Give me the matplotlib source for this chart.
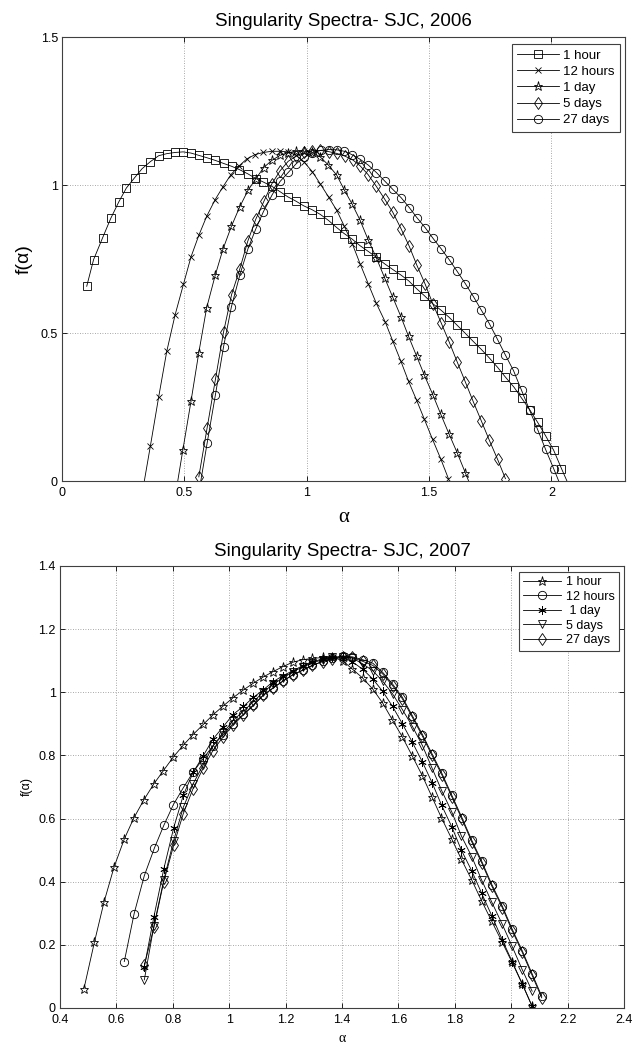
import matplotlib
matplotlib.use("Agg")
import matplotlib.pyplot as plt

# ---- 2006 spectra (alpha, f(alpha)) ----
a_1h_06 = [0.101, 0.129, 0.166, 0.199, 0.232, 0.263, 0.297, 0.327, 0.361, 0.395,
           0.428, 0.462, 0.495, 0.527, 0.560, 0.593, 0.627, 0.660, 0.694, 0.725,
           0.759, 0.792, 0.823, 0.857, 0.890, 0.923, 0.957, 0.987, 1.021, 1.055,
           1.088, 1.123, 1.153, 1.186, 1.218, 1.251, 1.284, 1.318, 1.351, 1.385,
           1.417, 1.450, 1.481, 1.515, 1.549, 1.582, 1.615, 1.648, 1.680, 1.713,
           1.746, 1.780, 1.812, 1.847, 1.879, 1.911, 1.943, 1.976, 2.009, 2.041, 2.074]
f_1h_06 = [0.658, 0.748, 0.822, 0.887, 0.943, 0.990, 1.025, 1.055, 1.079, 1.099,
           1.106, 1.110, 1.112, 1.108, 1.100, 1.092, 1.083, 1.073, 1.063, 1.052,
           1.038, 1.022, 1.010, 0.996, 0.978, 0.960, 0.945, 0.930, 0.917, 0.901,
           0.881, 0.856, 0.836, 0.817, 0.795, 0.776, 0.756, 0.734, 0.715, 0.696,
           0.676, 0.649, 0.626, 0.599, 0.577, 0.553, 0.526, 0.499, 0.472, 0.445,
           0.416, 0.384, 0.351, 0.317, 0.279, 0.241, 0.199, 0.153, 0.104, 0.042, -0.020]

a_12h_06 = [0.328, 0.361, 0.395, 0.428, 0.462, 0.496, 0.527, 0.559, 0.591, 0.626,
            0.657, 0.690, 0.724, 0.755, 0.789, 0.823, 0.857, 0.891, 0.924, 0.957,
            0.990, 1.023, 1.056, 1.089, 1.123, 1.154, 1.186, 1.218, 1.251, 1.284,
            1.321, 1.352, 1.385, 1.416, 1.449, 1.481, 1.514, 1.547, 1.579]
f_12h_06 = [-0.040, 0.118, 0.284, 0.438, 0.561, 0.664, 0.757, 0.830, 0.894, 0.951,
            0.993, 1.035, 1.065, 1.088, 1.103, 1.110, 1.114, 1.114, 1.112, 1.100,
            1.077, 1.045, 1.003, 0.960, 0.914, 0.860, 0.802, 0.734, 0.667, 0.601,
            0.537, 0.472, 0.404, 0.337, 0.273, 0.208, 0.141, 0.076, 0.008]

a_1d_06 = [0.461, 0.494, 0.527, 0.559, 0.591, 0.626, 0.658, 0.692, 0.726, 0.760,
           0.792, 0.824, 0.857, 0.890, 0.923, 0.957, 0.990, 1.022, 1.055, 1.088,
           1.123, 1.153, 1.186, 1.218, 1.251, 1.284, 1.318, 1.351, 1.385, 1.416,
           1.449, 1.481, 1.515, 1.548, 1.581, 1.615, 1.648, 1.681]
f_1d_06 = [-0.060, 0.106, 0.269, 0.434, 0.585, 0.695, 0.784, 0.860, 0.926, 0.982,
           1.021, 1.059, 1.083, 1.100, 1.109, 1.114, 1.114, 1.110, 1.095, 1.068,
           1.033, 0.984, 0.935, 0.881, 0.815, 0.755, 0.687, 0.622, 0.555, 0.489,
           0.422, 0.357, 0.292, 0.225, 0.160, 0.095, 0.028, -0.040]

a_5d_06 = [0.559, 0.593, 0.627, 0.660, 0.693, 0.726, 0.759, 0.792, 0.825, 0.858,
           0.891, 0.924, 0.957, 0.990, 1.023, 1.056, 1.089, 1.122, 1.155, 1.188,
           1.218, 1.251, 1.284, 1.318, 1.351, 1.385, 1.419, 1.450, 1.484, 1.515,
           1.549, 1.582, 1.615, 1.648, 1.680, 1.713, 1.746, 1.780, 1.812]
f_5d_06 = [0.014, 0.180, 0.344, 0.503, 0.630, 0.715, 0.810, 0.885, 0.945, 1.005,
           1.048, 1.080, 1.098, 1.110, 1.116, 1.117, 1.113, 1.107, 1.098, 1.085,
           1.065, 1.035, 0.996, 0.953, 0.909, 0.853, 0.793, 0.729, 0.665, 0.599,
           0.535, 0.470, 0.402, 0.335, 0.269, 0.204, 0.138, 0.073, 0.008]

a_27d_06 = [0.560, 0.593, 0.627, 0.660, 0.692, 0.727, 0.760, 0.792, 0.823, 0.858,
            0.891, 0.925, 0.957, 0.990, 1.023, 1.057, 1.090, 1.122, 1.154, 1.184,
            1.218, 1.252, 1.285, 1.318, 1.352, 1.386, 1.419, 1.450, 1.484, 1.515,
            1.549, 1.582, 1.615, 1.648, 1.682, 1.713, 1.746, 1.778, 1.811, 1.845,
            1.878, 1.911, 1.943, 1.976, 2.009, 2.042]
f_27d_06 = [-0.035, 0.128, 0.292, 0.453, 0.588, 0.697, 0.785, 0.852, 0.910, 0.966,
            1.012, 1.043, 1.072, 1.094, 1.108, 1.117, 1.120, 1.119, 1.114, 1.103,
            1.087, 1.067, 1.042, 1.014, 0.985, 0.957, 0.924, 0.890, 0.856, 0.821,
            0.785, 0.748, 0.708, 0.667, 0.622, 0.578, 0.532, 0.481, 0.427, 0.373,
            0.306, 0.239, 0.175, 0.107, 0.042, -0.025]

# ---- 2007 spectra ----
a_1h_07 = [0.485, 0.522, 0.556, 0.592, 0.628, 0.662, 0.698, 0.733, 0.767, 0.802,
           0.837, 0.872, 0.908, 0.942, 0.978, 1.013, 1.050, 1.086, 1.120, 1.155,
           1.190, 1.225, 1.261, 1.295, 1.331, 1.366, 1.402, 1.437, 1.473, 1.509,
           1.544, 1.578, 1.614, 1.649, 1.685, 1.719, 1.752, 1.789, 1.823, 1.860,
           1.895, 1.931, 1.968, 2.003, 2.039, 2.074]
f_1h_07 = [0.061, 0.208, 0.335, 0.447, 0.535, 0.602, 0.660, 0.710, 0.752, 0.795,
           0.832, 0.866, 0.898, 0.928, 0.956, 0.982, 1.007, 1.029, 1.048, 1.065,
           1.081, 1.095, 1.103, 1.107, 1.110, 1.111, 1.100, 1.073, 1.045, 1.010,
           0.966, 0.913, 0.858, 0.798, 0.735, 0.668, 0.603, 0.535, 0.471, 0.405,
           0.339, 0.274, 0.208, 0.144, 0.076, 0.005]

a_12h_07 = [0.628, 0.663, 0.699, 0.735, 0.768, 0.802, 0.837, 0.872, 0.908, 0.942,
            0.978, 1.013, 1.050, 1.086, 1.120, 1.155, 1.190, 1.225, 1.261, 1.295,
            1.331, 1.366, 1.402, 1.437, 1.473, 1.509, 1.544, 1.579, 1.614, 1.649,
            1.685, 1.719, 1.754, 1.789, 1.825, 1.860, 1.895, 1.931, 1.968, 2.003,
            2.039, 2.074, 2.108]
f_12h_07 = [0.147, 0.299, 0.419, 0.507, 0.578, 0.644, 0.697, 0.747, 0.790, 0.830,
            0.865, 0.900, 0.930, 0.960, 0.990, 1.013, 1.035, 1.055, 1.070, 1.085,
            1.098, 1.108, 1.115, 1.112, 1.103, 1.092, 1.063, 1.026, 0.984, 0.926,
            0.866, 0.805, 0.743, 0.674, 0.603, 0.531, 0.465, 0.391, 0.323, 0.250,
            0.181, 0.108, 0.037]

a_1d_07 = [0.699, 0.733, 0.768, 0.803, 0.837, 0.872, 0.908, 0.942, 0.978, 1.013,
           1.050, 1.086, 1.120, 1.155, 1.190, 1.225, 1.261, 1.295, 1.331, 1.366,
           1.402, 1.437, 1.473, 1.509, 1.544, 1.579, 1.614, 1.649, 1.685, 1.719,
           1.753, 1.789, 1.823, 1.860, 1.895, 1.931, 1.968, 2.003, 2.039, 2.074]
f_1d_07 = [0.130, 0.289, 0.440, 0.570, 0.673, 0.746, 0.799, 0.851, 0.890, 0.929,
           0.955, 0.984, 1.007, 1.033, 1.052, 1.068, 1.084, 1.097, 1.105, 1.110,
           1.112, 1.096, 1.073, 1.042, 1.003, 0.955, 0.900, 0.842, 0.779, 0.714,
           0.642, 0.574, 0.500, 0.434, 0.363, 0.292, 0.216, 0.147, 0.076, 0.005]

a_5d_07 = [0.699, 0.733, 0.768, 0.803, 0.837, 0.872, 0.908, 0.942, 0.978, 1.013,
           1.050, 1.086, 1.120, 1.155, 1.190, 1.225, 1.261, 1.295, 1.331, 1.366,
           1.402, 1.437, 1.473, 1.509, 1.544, 1.579, 1.614, 1.650, 1.685, 1.719,
           1.754, 1.789, 1.823, 1.860, 1.895, 1.931, 1.968, 2.003, 2.039, 2.074]
f_5d_07 = [0.089, 0.260, 0.405, 0.530, 0.635, 0.710, 0.770, 0.830, 0.870, 0.910,
           0.940, 0.970, 1.000, 1.025, 1.045, 1.065, 1.080, 1.093, 1.103, 1.110,
           1.112, 1.108, 1.090, 1.068, 1.035, 0.995, 0.945, 0.891, 0.831, 0.760,
           0.687, 0.621, 0.545, 0.479, 0.405, 0.335, 0.265, 0.195, 0.121, 0.053]

a_27d_07 = [0.699, 0.733, 0.768, 0.803, 0.837, 0.872, 0.908, 0.942, 0.978, 1.013,
            1.050, 1.086, 1.120, 1.155, 1.190, 1.225, 1.261, 1.295, 1.331, 1.366,
            1.402, 1.437, 1.473, 1.509, 1.544, 1.579, 1.614, 1.649, 1.685, 1.719,
            1.754, 1.789, 1.825, 1.860, 1.895, 1.931, 1.968, 2.003, 2.039, 2.074, 2.108]
f_27d_07 = [0.135, 0.255, 0.400, 0.515, 0.615, 0.695, 0.760, 0.815, 0.858, 0.895,
            0.928, 0.958, 0.990, 1.013, 1.035, 1.055, 1.070, 1.085, 1.097, 1.105,
            1.110, 1.110, 1.098, 1.085, 1.058, 1.021, 0.979, 0.921, 0.861, 0.800,
            0.738, 0.669, 0.598, 0.526, 0.460, 0.386, 0.318, 0.245, 0.176, 0.103, 0.032]

labels_06 = ["1 hour", "12 hours", "1 day", "5 days", "27 days"]
labels_07 = ["1 hour", "12 hours", " 1 day", "5 days", "27 days"]
xticks_06 = [0, 0.5, 1, 1.5, 2]
xticklabels_06 = ["0", "0.5", "1", "1.5", "2"]
yticks_06 = [0, 0.5, 1, 1.5]
yticklabels_06 = ["0", "0.5", "1", "1.5"]
xticks_07 = [0.4, 0.6, 0.8, 1, 1.2, 1.4, 1.6, 1.8, 2, 2.2, 2.4]
xticklabels_07 = ["0.4", "0.6", "0.8", "1", "1.2", "1.4", "1.6", "1.8", "2", "2.2", "2.4"]
yticks_07 = [0, 0.2, 0.4, 0.6, 0.8, 1, 1.2, 1.4]
yticklabels_07 = ["0", "0.2", "0.4", "0.6", "0.8", "1", "1.2", "1.4"]

plt.rcParams["font.family"] = ["Liberation Sans", "DejaVu Sans"]

fig = plt.figure(figsize=(6.36, 10.43), dpi=100)
ax1 = fig.add_axes([0.0975, 0.5388, 0.885, 0.4257])
ax2 = fig.add_axes([0.0943, 0.0336, 0.887, 0.4238])

line_kw = dict(color="k", lw=0.6, mfc="none", mec="k", mew=0.6)


def style_axes(ax, xt, xtl, yt, ytl):
    ax.set_xticks(xt)
    ax.set_xticklabels(xtl)
    ax.set_yticks(yt)
    ax.set_yticklabels(ytl)
    ax.tick_params(direction="in", top=True, right=True, length=3.5,
                   width=0.6, labelsize=9)
    ax.tick_params(axis="x", pad=4.5)
    ax.tick_params(axis="y", pad=3)
    ax.grid(True, color="0.55", linestyle=(0, (1, 2)), linewidth=0.6)
    for s in ax.spines.values():
        s.set_linewidth(0.8)
        s.set_color("0.25")


# top panel
ax1.plot(a_1h_06, f_1h_06, marker="s", ms=5.5, label=labels_06[0], **line_kw)
ax1.plot(a_12h_06, f_12h_06, marker="x", ms=4.5, label=labels_06[1], **line_kw)
ax1.plot(a_1d_06, f_1d_06, marker="*", ms=6.5, label=labels_06[2], **line_kw)
ax1.plot(a_5d_06, f_5d_06, marker="d", ms=6, label=labels_06[3], **line_kw)
ax1.plot(a_27d_06, f_27d_06, marker="o", ms=6, label=labels_06[4], **line_kw)
ax1.set_xlim(0, 2.3)
ax1.set_ylim(0, 1.5)
style_axes(ax1, xticks_06, xticklabels_06, yticks_06, yticklabels_06)
ax1.set_title("Singularity Spectra- SJC, 2006", fontsize=13.5, pad=8)
ax1.set_xlabel("α", fontsize=15, family="Liberation Serif", labelpad=6)
ax1.set_ylabel("f(α)", fontsize=14, labelpad=6)
leg1 = ax1.legend(loc="upper right", bbox_to_anchor=(1 - 5 / 563, 1 - 7 / 444),
                  borderaxespad=0, fontsize=9.5, handlelength=3.2, handletextpad=0.3,
                  labelspacing=0.3, borderpad=0.4, numpoints=1, fancybox=False,
                  framealpha=1, edgecolor="0.25")
leg1.get_frame().set_linewidth(0.8)

# bottom panel
ax2.plot(a_1h_07, f_1h_07, marker="*", ms=6.5, label=labels_07[0], **line_kw)
ax2.plot(a_12h_07, f_12h_07, marker="o", ms=6, label=labels_07[1], **line_kw)
ax2.plot(a_1d_07, f_1d_07, marker=(6, 2, 0), ms=6, label=labels_07[2], **line_kw)
ax2.plot(a_5d_07, f_5d_07, marker="v", ms=6, label=labels_07[3], **line_kw)
ax2.plot(a_27d_07, f_27d_07, marker="d", ms=6, label=labels_07[4], **line_kw)
ax2.set_xlim(0.4, 2.4)
ax2.set_ylim(0, 1.4)
style_axes(ax2, xticks_07, xticklabels_07, yticks_07, yticklabels_07)
ax2.set_title("Singularity Spectra- SJC, 2007", fontsize=13.5, pad=7)
ax2.set_xlabel("α", fontsize=10, family="Liberation Serif", labelpad=4)
ax2.set_ylabel("f(α)", fontsize=9, labelpad=4)
leg2 = ax2.legend(loc="upper right", bbox_to_anchor=(1 - 5 / 564, 1 - 6 / 442),
                  borderaxespad=0, fontsize=9, handlelength=3.0, handletextpad=0.4,
                  labelspacing=0.2, borderpad=0.35, numpoints=1, fancybox=False,
                  framealpha=1, edgecolor="0.25")
leg2.get_frame().set_linewidth(0.8)

fig.savefig("out.png", dpi=100, facecolor="white")
